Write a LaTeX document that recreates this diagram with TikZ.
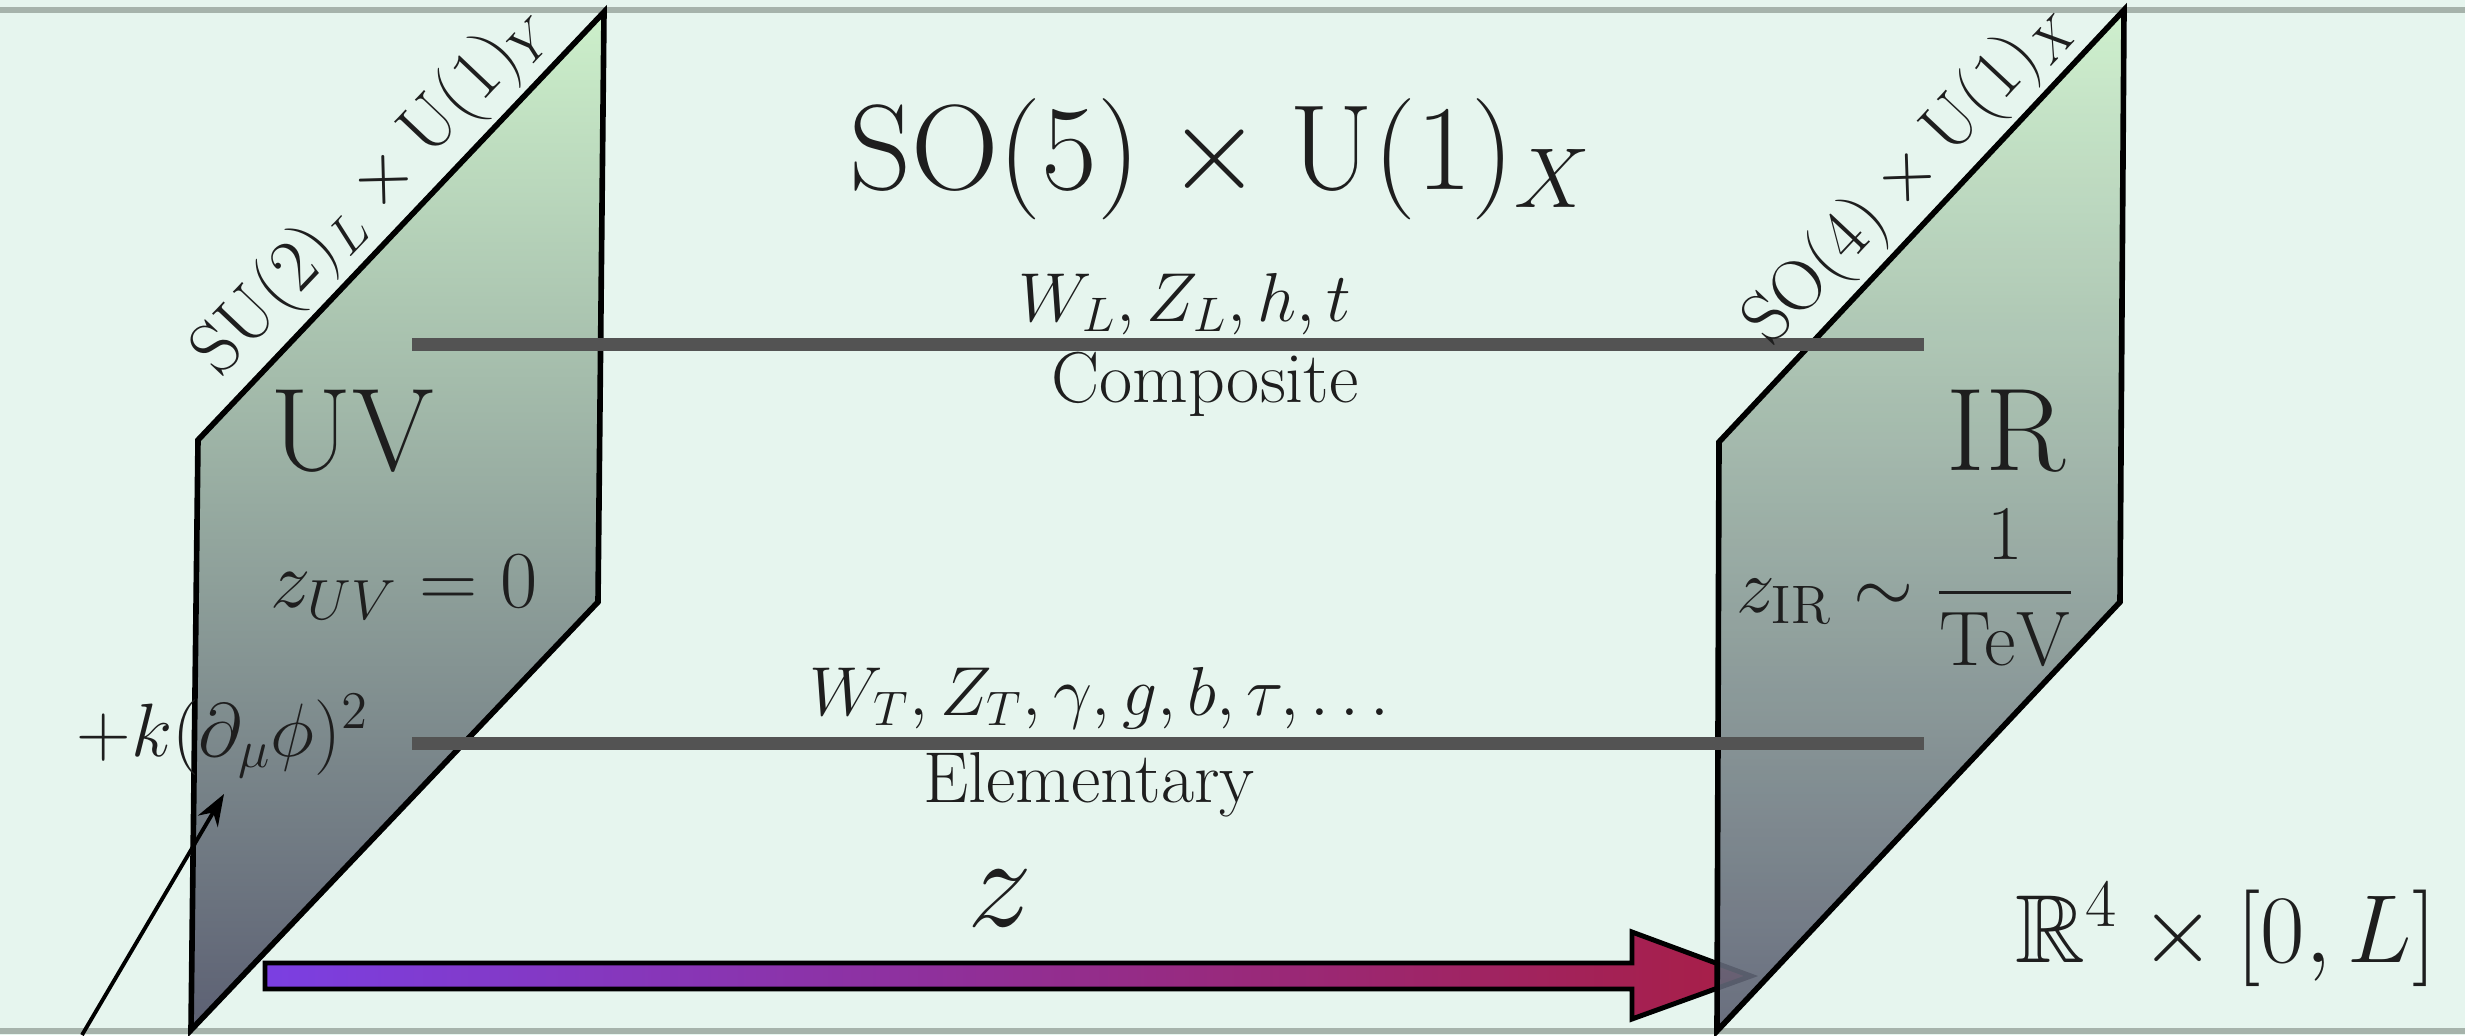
\RequirePackage{fix-cm}
\documentclass[tikz,border=0pt]{standalone}
\usepackage{amsmath,amssymb}
\usetikzlibrary{arrows.meta}
\definecolor{bgc}{HTML}{E6F5EE}
\definecolor{rulec}{HTML}{A6B3AB}
\definecolor{branetop}{HTML}{CDF0CB}
\definecolor{branemid}{HTML}{A3C3A6}
\definecolor{branebot}{HTML}{5C6073}
\definecolor{linec}{HTML}{535353}
\definecolor{txt}{HTML}{1E1E1E}
\definecolor{arrl}{HTML}{7B3FE2}
\definecolor{arrr}{HTML}{A81E46}
\newcommand{\myfs}[1]{\fontsize{#1}{#1}\selectfont}
\begin{document}
\begin{tikzpicture}[x=0.01cm,y=-0.01cm,
  brane/.style={draw=black,line width=1.6pt,line join=miter,top color=branetop,middle color=branemid,bottom color=branebot},
  wline/.style={draw=linec,line width=3.7pt},
  lab/.style={text=txt,inner sep=0pt},
  slab/.style={text=txt,inner sep=2pt,sloped,above},
  ]
\useasboundingbox (0,0) rectangle (2465,1035);
\fill[bgc] (0,0) rectangle (2465,1035);
\draw[rulec,line width=1.7pt] (0,10) -- (2465,10);
\draw[rulec,line width=1.7pt] (0,1031) -- (2465,1031);

% left brane
\coordinate (LA) at (198,440);
\coordinate (LB) at (604,12);
\coordinate (LC) at (598,602);
\coordinate (LD) at (191,1030);
\path[brane] (LA) -- (LB) -- (LC) -- (LD) -- cycle;

% z arrow
\path[draw=black,line width=1.4pt,line join=miter,left color=arrl,right color=arrr]
  (265,963) -- (1632,963) -- (1632,932) -- (1751,976) -- (1632,1019) -- (1632,989) -- (265,989) -- cycle;

% right brane
\coordinate (RA) at (1719,442);
\coordinate (RB) at (2124,10);
\coordinate (RC) at (2120,602);
\coordinate (RD) at (1717,1031);
\path[brane,fill opacity=0.9] (RA) -- (RB) -- (RC) -- (RD) -- cycle;

% field lines
\coordinate (c1) at (412,344);
\coordinate (c2) at (1924,344);
\draw[wline] (c1) -- (c2);
\coordinate (e1) at (412,743);
\coordinate (e2) at (1924,743);
\draw[wline] (e1) -- (e2);

% labels along branes
\path (LA) -- (LB) node[slab,pos=0.51] (lsym) {\myfs{21}$\mathrm{SU}(2)_L\times\mathrm{U}(1)_Y$};
\path (RA) -- (RB) node[slab,pos=0.55] (rsym) {\myfs{20.5}$\mathrm{SO}(4)\times\mathrm{U}(1)_X$};

% texts
\node[lab,anchor=base] (title) at (1221,189) {\myfs{34.5}$\mathrm{SO}(5)\times\mathrm{U}(1)_X$};
\node[lab,anchor=base] (wl) at (1185,321) {\myfs{19.7}$W_L,Z_L,h,t$};
\node[lab,anchor=base] (comp) at (1205,402) {\myfs{20.5}Composite};
\node[lab,anchor=base] (wt) at (1100,715) {\myfs{19.7}$W_T,Z_T,\gamma,g,b,\tau,\ldots$};
\node[lab,anchor=base] (elem) at (1089,802) {\myfs{20.5}Elementary};
\node[lab,anchor=base] (uv) at (352,470) {\myfs{33.5}UV};
\node[lab,anchor=base] (ir) at (2006,470) {\myfs{33.5}IR};
\node[lab,anchor=base west] (zuv) at (270,607) {\myfs{23}$z_{UV}=0$};
\node[lab,anchor=base west] (zir) at (1736,612) {\myfs{22}$z_{\mathrm{IR}}\sim\dfrac{1}{\mathrm{TeV}}$};
\node[lab,anchor=base west] (kterm) at (76,756) {\myfs{21.5}$+k(\partial_\mu\phi)^2$};
\node[lab,anchor=base east] (space) at (2437,962) {\myfs{27.5}$\mathbb{R}^4\times[0,L]$};
\node[lab,anchor=base] (zlab) at (1000,926) {\myfs{37}$z$};

% thin arrow to k-term
\coordinate (ks) at (82,1035);
\coordinate (kt) at (224,794);
\draw[line width=1.1pt,-{Stealth[length=9pt,width=6.5pt]}] (ks) -- (kt);
\end{tikzpicture}
\end{document}
